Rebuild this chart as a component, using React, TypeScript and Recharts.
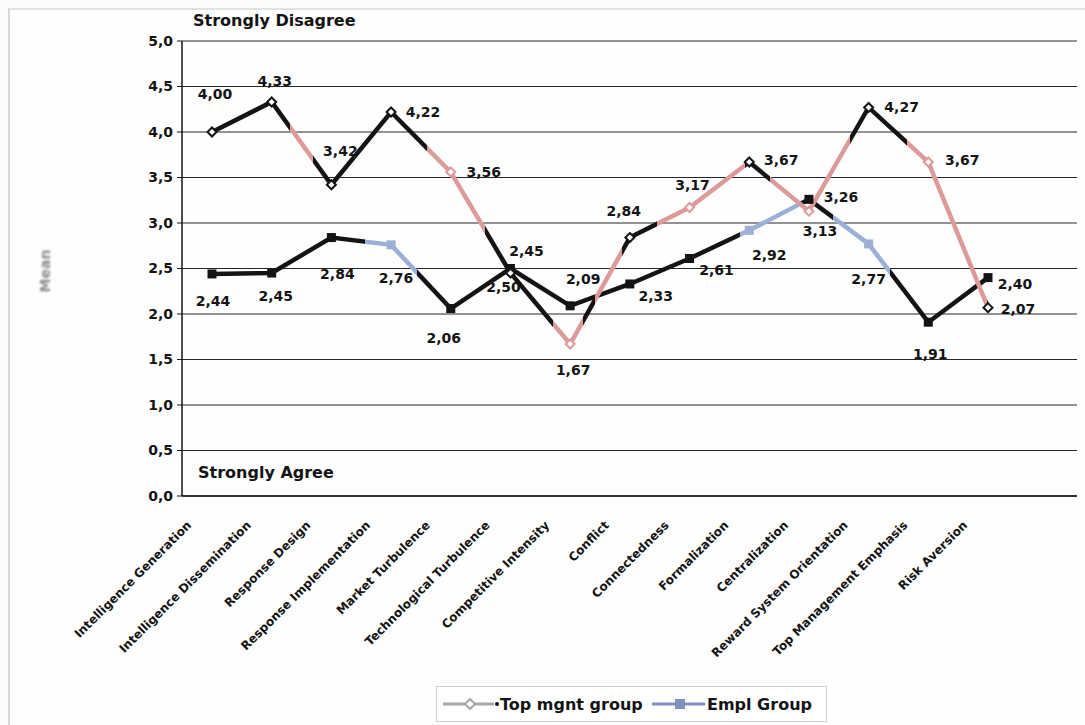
import { CartesianGrid, Line, LineChart, XAxis, YAxis } from 'recharts';

const CATEGORIES = [
  'Intelligence Generation',
  'Intelligence Dissemination',
  'Response Design',
  'Response Implementation',
  'Market Turbulence',
  'Technological Turbulence',
  'Competitive Intensity',
  'Conflict',
  'Connectedness',
  'Formalization',
  'Centralization',
  'Reward System Orientation',
  'Top Management Emphasis',
  'Risk Aversion',
];

const TOP_MGNT = [4.0, 4.33, 3.42, 4.22, 3.56, 2.45, 1.67, 2.84, 3.17, 3.67, 3.13, 4.27, 3.67, 2.07];
const EMPL = [2.44, 2.45, 2.84, 2.76, 2.06, 2.5, 2.09, 2.33, 2.61, 2.92, 3.26, 2.77, 1.91, 2.4];

const Y_TICKS = [0, 0.5, 1, 1.5, 2, 2.5, 3, 3.5, 4, 4.5, 5];

// where each value label sits relative to its marker [dx, dy]
const TOP_LABEL_OFFSET = [
  [3, -38], [3, -21], [9, -34], [32, 0], [33, 0], [16, -22], [3, 26],
  [-6, -27], [3, -23], [32, -2], [11, 20], [33, 0], [34, -2], [30, 1],
];
const EMPL_LABEL_OFFSET = [
  [1, 27], [4, 23], [6, 36], [5, 33], [-7, 29], [-7, 18], [13, -27],
  [26, 12], [27, 12], [20, 25], [32, -2], [0, 35], [2, 32], [27, 6],
];

// stretches of each line (in category steps) printed in the light tone
const TOP_LIGHT = [[1.31, 1.69], [3.6, 4.57], [5.71, 6.21], [6.42, 6.87], [7.45, 8.93], [9.35, 10.69], [11.64, 12.98]];
const EMPL_LIGHT = [[2.56, 3.43], [8.84, 9.85], [10.4, 11.36]];

const DARK = '#141414';
const PINK = '#dc9a9a';
const BLUE = '#9cafd6';
const FONT = '"DejaVu Sans", Arial, sans-serif';

const data = CATEGORIES.map((name, i) => ({ name, top: TOP_MGNT[i], empl: EMPL[i] }));
const last = CATEGORIES.length - 1;

const fmt = (v: number, digits = 2) => v.toFixed(digits).replace('.', ',');
const inLight = (ranges: number[][], i: number) => ranges.some(([a, b]) => i >= a && i <= b);

function gradientStops(ranges: number[][], light: string) {
  const stops: { offset: number; color: string }[] = [{ offset: 0, color: DARK }];
  ranges.forEach(([a, b]) => {
    stops.push({ offset: a / last, color: DARK });
    stops.push({ offset: a / last, color: light });
    stops.push({ offset: b / last, color: light });
    stops.push({ offset: b / last, color: DARK });
  });
  stops.push({ offset: 1, color: DARK });
  return stops;
}

function TopDot(props: any) {
  const { cx, cy, index } = props;
  const c = inLight(TOP_LIGHT, index) ? PINK : DARK;
  const r = 4.5;
  return (
    <path
      key={`td${index}`}
      d={`M${cx},${cy - r}L${cx + r},${cy}L${cx},${cy + r}L${cx - r},${cy}Z`}
      fill="#fff"
      stroke={c}
      strokeWidth={2}
    />
  );
}

function EmplDot(props: any) {
  const { cx, cy, index } = props;
  const c = inLight(EMPL_LIGHT, index) ? BLUE : DARK;
  return <rect key={`ed${index}`} x={cx - 4.5} y={cy - 4.5} width={9} height={9} fill={c} />;
}

function makeLabel(offsets: number[][]) {
  return (props: any) => {
    const { x, y, value, index } = props;
    const [dx, dy] = offsets[index] ?? [0, -20];
    return (
      <text
        key={`lb${index}`}
        x={x + dx}
        y={y + dy}
        textAnchor="middle"
        dominantBaseline="central"
        fontFamily={FONT}
        fontWeight={700}
        fontSize={14}
        fill={DARK}
      >
        {fmt(value)}
      </text>
    );
  };
}

function CategoryTick({ x, y, payload }: any) {
  const tx = x - 20;
  const ty = y + 30;
  return (
    <text
      x={tx}
      y={ty}
      transform={`rotate(-45 ${tx} ${ty})`}
      textAnchor="end"
      fontFamily={FONT}
      fontWeight={700}
      fontSize={12}
      fill={DARK}
    >
      {payload.value}
    </text>
  );
}

function LegendBox() {
  return (
    <svg width={392} height={37} style={{ position: 'absolute', left: 436, top: 686 }}>
      <rect x={0.5} y={0.5} width={390} height={35} fill="#fff" stroke="#cfcfcf" />
      <line x1={7} y1={18} x2={58} y2={18} stroke="#a8a8a8" strokeWidth={3} />
      <path d="M34,13L39,18L34,23L29,18Z" fill="#fff" stroke="#a8a8a8" strokeWidth={2} />
      <circle cx={61} cy={18} r={2} fill={DARK} />
      <text x={64} y={24} fontFamily={FONT} fontWeight={700} fontSize={16} fill={DARK}>
        Top mgnt group
      </text>
      <line x1={216} y1={18} x2={269} y2={18} stroke="#7f8fb8" strokeWidth={3} />
      <rect x={239} y={13} width={10} height={10} fill="#7f8fb8" />
      <text x={271} y={24} fontFamily={FONT} fontWeight={700} fontSize={16} fill={DARK}>
        Empl Group
      </text>
    </svg>
  );
}

export default function App() {
  const topStops = gradientStops(TOP_LIGHT, PINK);
  const emplStops = gradientStops(EMPL_LIGHT, BLUE);

  return (
    <div style={{ position: 'absolute', left: 0, top: 0, width: 1085, height: 725, background: '#fbfbfb', overflow: 'hidden' }}>
      <div
        style={{
          position: 'absolute',
          left: 8,
          top: 8,
          right: -4,
          bottom: -4,
          borderLeft: '2px solid #d6d6d6',
          borderTop: '2px solid #e2e2e2',
          background: '#fefefe',
        }}
      />
      <div style={{ position: 'absolute', left: 0, top: 0 }}>
        <LineChart width={1085} height={725} data={data} margin={{ top: 41, right: 8, bottom: 0, left: 0 }}>
          <defs>
            <linearGradient id="topStroke" x1="0" y1="0" x2="1" y2="0">
              {topStops.map((s, i) => (
                <stop key={i} offset={s.offset} stopColor={s.color} />
              ))}
            </linearGradient>
            <linearGradient id="emplStroke" x1="0" y1="0" x2="1" y2="0">
              {emplStops.map((s, i) => (
                <stop key={i} offset={s.offset} stopColor={s.color} />
              ))}
            </linearGradient>
          </defs>
          <CartesianGrid vertical={false} stroke="#262626" strokeWidth={1.2} />
          <XAxis
            dataKey="name"
            interval={0}
            height={229}
            tickLine={false}
            tickSize={0}
            tickMargin={0}
            axisLine={{ stroke: DARK, strokeWidth: 1.5 }}
            padding={{ left: 30, right: 89 }}
            tick={<CategoryTick />}
          />
          <YAxis
            domain={[0, 5]}
            ticks={Y_TICKS}
            interval={0}
            width={182}
            tickSize={5}
            tickMargin={4}
            axisLine={{ stroke: DARK, strokeWidth: 1.5 }}
            tickLine={{ stroke: DARK }}
            tickFormatter={(v: number) => fmt(v, 1)}
            tick={{ fontSize: 14, fontWeight: 700, fill: DARK, fontFamily: FONT }}
          />
          <YAxis
            yAxisId="frame"
            orientation="right"
            width={0}
            domain={[0, 5]}
            tick={false}
            tickLine={false}
            axisLine={{ stroke: DARK, strokeWidth: 1.5 }}
          />
          <Line
            type="linear"
            dataKey="empl"
            name="Empl Group"
            stroke="url(#emplStroke)"
            strokeWidth={4.5}
            dot={(p: any) => <EmplDot {...p} />}
            activeDot={false}
            label={makeLabel(EMPL_LABEL_OFFSET)}
            isAnimationActive={false}
          />
          <Line
            type="linear"
            dataKey="top"
            name="Top mgnt group"
            stroke="url(#topStroke)"
            strokeWidth={4.5}
            dot={(p: any) => <TopDot {...p} />}
            activeDot={false}
            label={makeLabel(TOP_LABEL_OFFSET)}
            isAnimationActive={false}
          />
        </LineChart>
      </div>
      <svg width={1085} height={725} style={{ position: 'absolute', left: 0, top: 0, pointerEvents: 'none' }}>
        <text x={193} y={26} fontFamily={FONT} fontWeight={700} fontSize={16} fill={DARK}>
          Strongly Disagree
        </text>
        <text x={198} y={478} fontFamily={FONT} fontWeight={700} fontSize={16} fill={DARK}>
          Strongly Agree
        </text>
        <text
          x={50}
          y={271}
          transform="rotate(-90 50 271)"
          textAnchor="middle"
          fontFamily={FONT}
          fontWeight={700}
          fontSize={14}
          fill="#8a8a8a"
          style={{ filter: 'blur(0.8px)' }}
        >
          Mean
        </text>
      </svg>
      <LegendBox />
    </div>
  );
}
